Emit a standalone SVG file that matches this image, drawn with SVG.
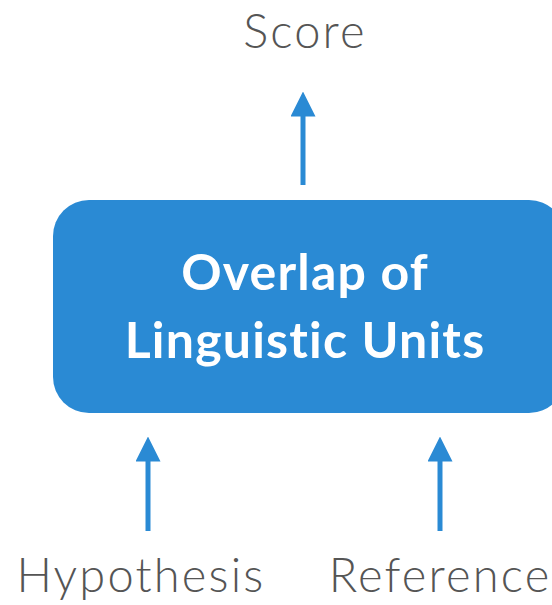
<svg xmlns="http://www.w3.org/2000/svg" width="552" height="605" viewBox="0 0 552 605">
  <style>
    .label { font-family: Lato, "Open Sans", "Liberation Sans", sans-serif; font-size: 47px; font-weight: 300; letter-spacing: 2.2px; fill: #555555; }
    .node-text { font-family: Lato, "Open Sans", "Liberation Sans", sans-serif; font-size: 50px; font-weight: 700; letter-spacing: 1.2px; fill: #ffffff; }
    .conn { stroke: #2A8AD4; stroke-width: 5; fill: none; }
  </style>
  <defs>
    <marker id="head" viewBox="0 0 10 10" refX="1" refY="5" markerWidth="5" markerHeight="5" orient="auto" markerUnits="strokeWidth">
      <path d="M0,0 L10,5 L0,10 Z" fill="#2A8AD4"/>
    </marker>
  </defs>

  <rect width="552" height="605" fill="#ffffff"/>

  <g id="connectors">
    <line class="conn" x1="303" y1="185" x2="303" y2="114" marker-end="url(#head)"/>
    <line class="conn" x1="148" y1="531" x2="148" y2="459" marker-end="url(#head)"/>
    <line class="conn" x1="440" y1="531" x2="440" y2="459" marker-end="url(#head)"/>
  </g>

  <g id="overlap">
    <rect x="53" y="200" width="512" height="213" rx="36" fill="#2A8AD4"/>
    <text class="node-text" x="305" y="290" text-anchor="middle">Overlap of</text>
    <text class="node-text" x="305" y="358" text-anchor="middle">Linguistic Units</text>
  </g>

  <g id="score">
    <text class="label" x="305" y="48" text-anchor="middle">Score</text>
  </g>
  <g id="hypothesis">
    <text class="label" x="141" y="592" text-anchor="middle">Hypothesis</text>
  </g>
  <g id="reference">
    <text class="label" x="440" y="592" text-anchor="middle">Reference</text>
  </g>
</svg>
